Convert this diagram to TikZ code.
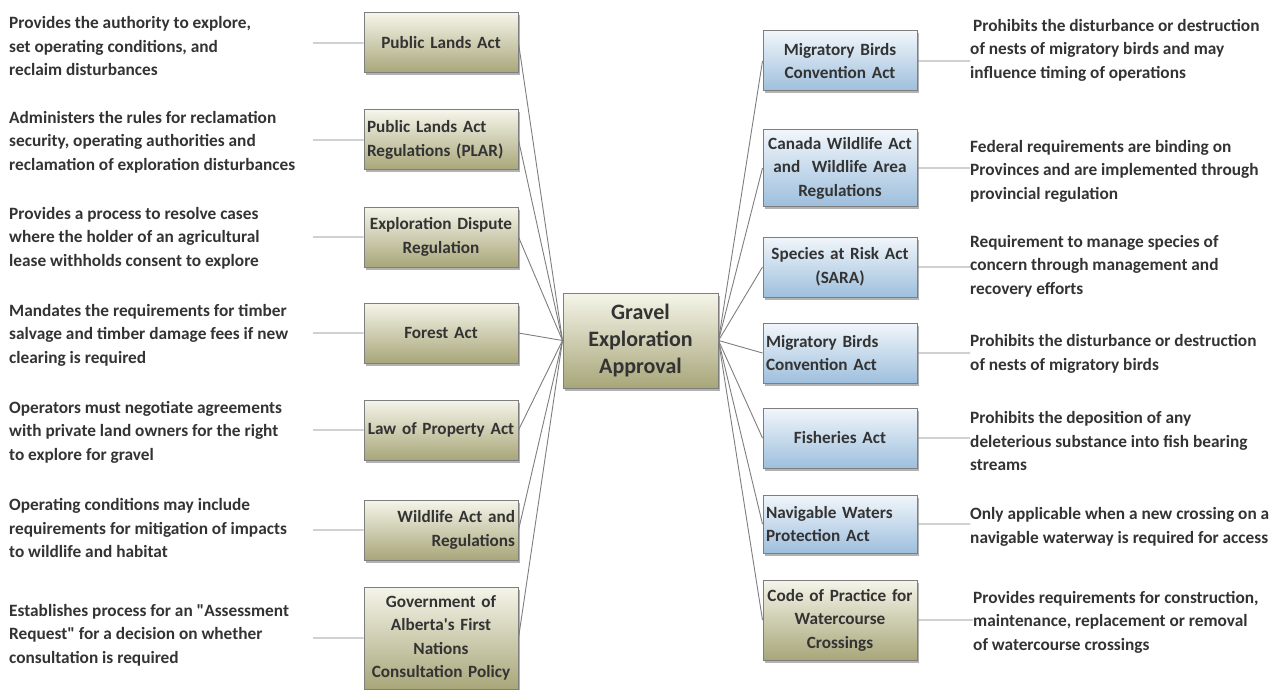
\documentclass[tikz,border=0pt]{standalone}
\usepackage{fontspec}
\setmainfont{Carlito}
\usetikzlibrary{shadows}
\definecolor{olivetop}{HTML}{F5F5EA}
\definecolor{olivebot}{HTML}{A8A679}
\definecolor{bluetop}{HTML}{F1F6FB}
\definecolor{bluebot}{HTML}{9EBFDD}
\definecolor{ink}{HTML}{333333}
\definecolor{wire}{HTML}{7E7E7E}
\tikzset{
  act/.style={draw=wire, line width=1pt, minimum height=60pt, inner xsep=3pt,
    inner ysep=2pt, text width=148pt, align=center, text=ink,
    font=\bfseries\fontsize{17.2}{23.5}\selectfont,
    drop shadow={shadow xshift=2pt, shadow yshift=-2.5pt, fill=black, opacity=.3}},
  prov/.style={act, top color=olivetop, bottom color=olivebot},
  fed/.style={act, top color=bluetop, bottom color=bluebot},
  note/.style={anchor=west, inner sep=0pt, align=left, text=ink,
    font=\bfseries\fontsize{17.3}{23.5}\selectfont},
  link/.style={draw=wire, line width=.9pt},
}
\begin{document}
\begin{tikzpicture}[x=1pt, y=-1pt]
	\useasboundingbox (0,0) rectangle (1283,690);
	% centre
	\node[prov, text width=149pt, minimum height=95pt,
		font=\bfseries\fontsize{22}{27}\selectfont] (c) at (640.5,340.5) {Gravel\\Exploration\\Approval};
	% provincial acts
	\node[prov] (lb1) at (441,43) {Public Lands Act};
	\node[prov, align=left] (lb2) at (441,140) {Public Lands Act\\Regulations (PLAR)};
	\node[prov] (lb3) at (441,237) {Exploration Dispute\\Regulation};
	\node[prov] (lb4) at (441,333) {Forest Act};
	\node[prov] (lb5) at (441,430) {Law of Property Act};
	\node[prov, align=right] (lb6) at (441,530) {Wildlife Act and\\Regulations};
	\node[prov, minimum height=102pt] (lb7) at (441,638) {Government of\\Alberta\textquotesingle s First\\Nations\\Consultation Policy};
	\node[note] (lt1) at (9,46) {Provides the authority to explore,\\set operating conditions, and\\reclaim disturbances};
	\node[note] (lt2) at (9,142) {Administers the rules for reclamation\\security, operating authorities and\\reclamation of exploration disturbances};
	\node[note] (lt3) at (9,238) {Provides a process to resolve cases\\where the holder of an agricultural\\lease withholds consent to explore};
	\node[note] (lt4) at (9,335) {Mandates the requirements for timber\\salvage and timber damage fees if new\\clearing is required};
	\node[note] (lt5) at (9,432) {Operators must negotiate agreements\\with private land owners for the right\\to explore for gravel};
	\node[note] (lt6) at (9,528) {Operating conditions may include\\requirements for mitigation of impacts\\to wildlife and habitat};
	\node[note] (lt7) at (9,635) {Establishes process for an \textquotedbl Assessment\\Request\textquotedbl\ for a decision on whether\\consultation is required};
	\coordinate (la1) at (313,43);
	\coordinate (la2) at (313,140);
	\coordinate (la3) at (313,237);
	\coordinate (la4) at (313,333);
	\coordinate (la5) at (313,430);
	\coordinate (la6) at (313,530);
	\coordinate (la7) at (313,638);
	% federal acts
	\node[fed] (rb1) at (840,61) {Migratory Birds\\Convention Act};
	\node[fed, minimum height=76pt] (rb2) at (840,168) {Canada Wildlife Act\\and~ Wildlife Area\\Regulations};
	\node[fed] (rb3) at (840,267) {Species at Risk Act\\(SARA)};
	\node[fed, align=left] (rb4) at (840,353) {Migratory Birds\\Convention Act};
	\node[fed] (rb5) at (840,438) {Fisheries Act};
	\node[fed, align=left, minimum height=58pt] (rb6) at (840,524) {Navigable Waters\\Protection Act};
	\node[prov, minimum height=80pt] (rb7) at (840,620) {Code of Practice for\\Watercourse\\Crossings};
	\node[note] (rt1) at (970,50) {\hspace{3pt}Prohibits the disturbance or destruction\\of nests of migratory birds and may\\influence timing of operations};
	\node[note] (rt2) at (970,171) {Federal requirements are binding on\\Provinces and are implemented through\\provincial regulation};
	\node[note] (rt3) at (970,266) {Requirement to manage species of\\concern through management and\\recovery efforts};
	\node[note] (rt4) at (970,354) {Prohibits the disturbance or destruction\\of nests of migratory birds};
	\node[note] (rt5) at (970,441) {Prohibits the deposition of any\\deleterious substance into fish bearing\\streams};
	\node[note] (rt6) at (970,527) {Only applicable when a new crossing on a\\navigable waterway is required for access};
	\node[note] (rt7) at (973,622) {Provides requirements for construction,\\maintenance, replacement or removal\\of watercourse crossings};
	% connectors
	\draw[link] (la1) -- (lb1.west) (lb1.east) -- (c.west);
	\draw[link] (la2) -- (lb2.west) (lb2.east) -- (c.west);
	\draw[link] (la3) -- (lb3.west) (lb3.east) -- (c.west);
	\draw[link] (la4) -- (lb4.west) (lb4.east) -- (c.west);
	\draw[link] (la5) -- (lb5.west) (lb5.east) -- (c.west);
	\draw[link] (la6) -- (lb6.west) (lb6.east) -- (c.west);
	\draw[link] (la7) -- (lb7.west) (lb7.east) -- (c.west);
	\draw[link] (c.east) -- (rb1.west) (rb1.east) -- (rb1.east -| rt1.west);
	\draw[link] (c.east) -- (rb2.west) (rb2.east) -- (rb2.east -| rt2.west);
	\draw[link] (c.east) -- (rb3.west) (rb3.east) -- (rb3.east -| rt3.west);
	\draw[link] (c.east) -- (rb4.west) (rb4.east) -- (rb4.east -| rt4.west);
	\draw[link] (c.east) -- (rb5.west) (rb5.east) -- (rb5.east -| rt5.west);
	\draw[link] (c.east) -- (rb6.west) (rb6.east) -- (rb6.east -| rt6.west);
	\draw[link] (c.east) -- (rb7.west) (rb7.east) -- (rb7.east -| rt7.west);
\end{tikzpicture}
\end{document}
